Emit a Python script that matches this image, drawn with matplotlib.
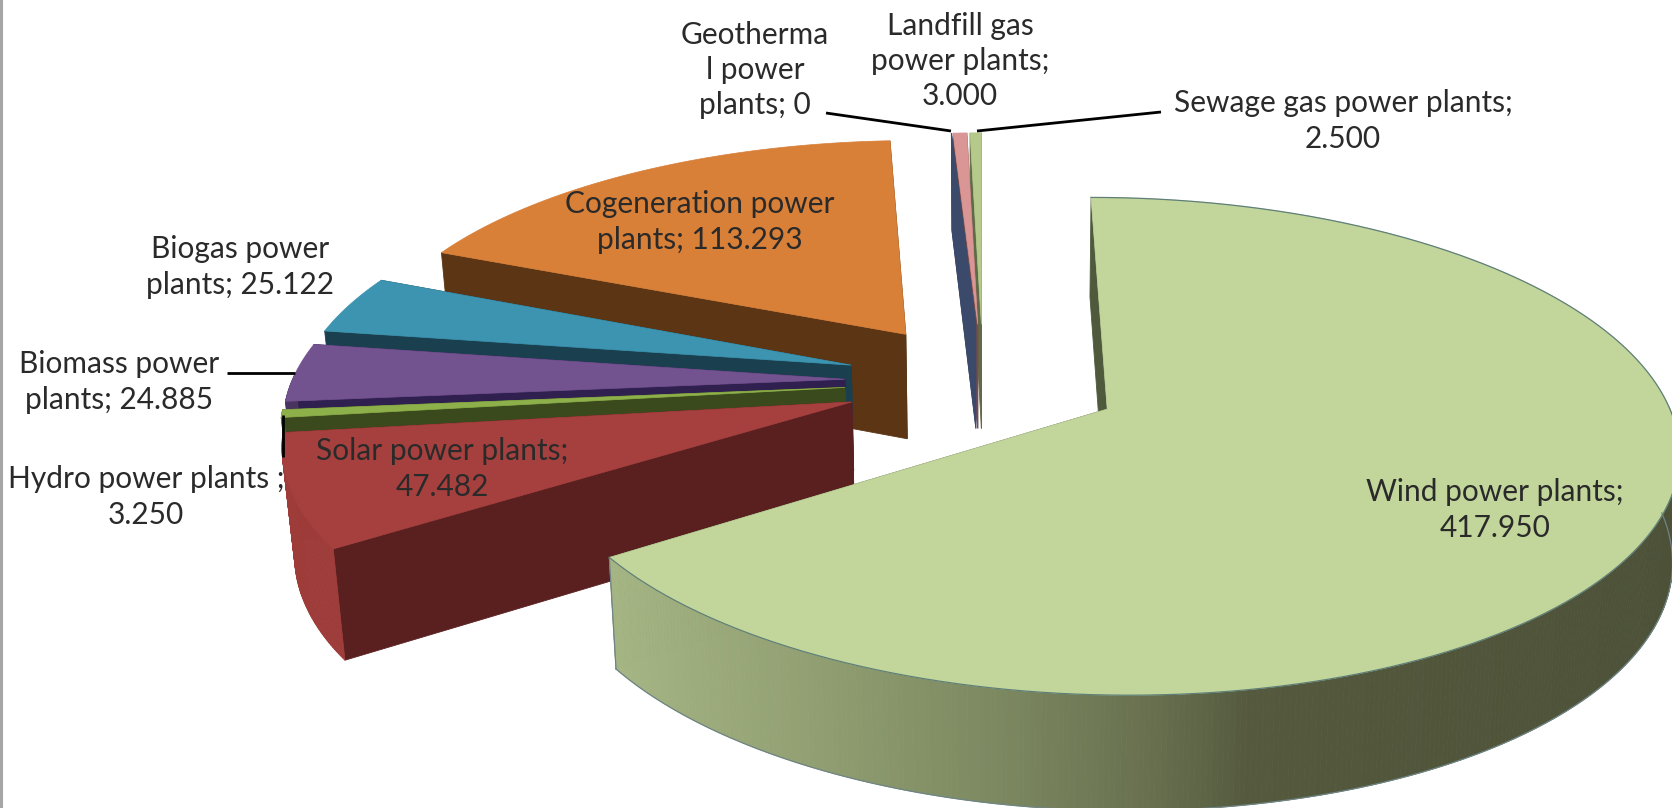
import numpy as np
import matplotlib
matplotlib.use("Agg")
import matplotlib.pyplot as plt

# data, clockwise from 12 o'clock
names = ["Wind power plants", "Solar power plants", "Hydro power plants", "Biomass power plants",
         "Biogas power plants", "Cogeneration power plants", "Geothermal power plants",
         "Landfill gas power plants", "Sewage gas power plants"]
values = [417950, 47482, 3250, 24885, 25122, 113293, 0, 3000, 2500]
label_texts = ["Wind power plants;\n417.950", "Solar power plants;\n47.482", "Hydro power plants ;\n3.250",
               "Biomass power\nplants; 24.885", "Biogas power\nplants; 25.122",
               "Cogeneration power\nplants; 113.293", "Geotherma\nl power\nplants; 0",
               "Landfill gas\npower plants;\n3.000", "Sewage gas power plants;\n2.500"]

# styles
top_colors = ["#C2D59A", "#A5403E", "#8DB04A", "#735290", "#3C94B0", "#D87F38", "#3B4A6B", "#D99694", "#B5C98A"]
face_colors = ["#4F5A3C", "#5A2020", "#3A4A1C", "#2F2050", "#1A4050", "#5B3514", "#3B4A6B", "#7A4A48", "#5F6B47"]
side_colors = ["#4F5338", "#9E3C3A", "#5A7030", "#4A3560", "#25607A", "#8A5020", "#3B4A6B", "#8A5A58", "#7F8F5F"]
label_pos = [(1495, 510), (442, 469), (146, 497), (119, 382), (240, 267), (700, 222), (755, 70), (960, 61), (1343, 121)]
leaders = [[(826, 113), (951, 131)], [(977, 131), (1161, 112)], [(227, 373), (295, 373)], [(282.5, 415), (282.5, 457)]]
draw_order = [8, 7, 6, 5, 4, 3, 2, 1, 0]

# projection of the pie plane to pixels
CX, CY, RX, RY, K = 983, 381, 553, 235, 0.147
EXPLODE = 0.25
DEPTH = 106
SHRINK_LEFT = 0.018
SHRINK_RIGHT = 0.01

# wind side gradient, pixel x -> colour
grad_x = [612, 800, 1000, 1150, 1250, 1672]
grad_c = ["#A6B584", "#92A073", "#7C8860", "#68704F", "#555A3E", "#4C5138"]


def top_xy(x, y):
    w = 1 + K * y
    return CX + RX * x / w, CY - RY * y / w


def bottom_xy(x, y):
    px, py = top_xy(x, y)
    shrink = np.where(px < CX, SHRINK_LEFT, SHRINK_RIGHT)
    return CX + (px - CX) * (1 - shrink), py + DEPTH / (1 + K * y * 0.5)


def hex_rgb(c):
    return np.array([int(c[i:i + 2], 16) / 255 for i in (1, 3, 5)])


def wind_color(x):
    rgb = np.array([hex_rgb(c) for c in grad_c])
    return [np.interp(x, grad_x, rgb[:, i]) for i in range(3)]


def quad(ax, a, b, c, d, color):
    ax.fill([a[0], b[0], c[0], d[0]], [a[1], b[1], c[1], d[1]], color=color, lw=0.6)


fig = plt.figure(figsize=(16.72, 8.08), dpi=100)
ax = fig.add_axes([0, 0, 1, 1])
ax.set_xlim(0, 1672)
ax.set_ylim(808, 0)
ax.axis("off")

# grey frame line on the left
ax.plot([1, 1], [0, 808], color="#A6A6A6", lw=2.2)

edges = np.concatenate([[0], np.cumsum(values)]) / sum(values) * 360

for i in draw_order:
    start, end = np.radians(edges[i]), np.radians(edges[i + 1])
    mid = (start + end) / 2
    ax0, ay0 = EXPLODE * np.sin(mid), EXPLODE * np.cos(mid)
    n = max(2, int((edges[i + 1] - edges[i]) * 2) + 2)
    th = np.linspace(start, end, n)
    ux = ax0 + np.sin(th)
    uy = ay0 + np.cos(th)

    # flat cut faces
    for ex, ey in [(ux[-1], uy[-1]), (ux[0], uy[0])]:
        quad(ax, top_xy(ax0, ay0), top_xy(ex, ey), bottom_xy(ex, ey), bottom_xy(ax0, ay0), face_colors[i])

    # curved outer side, only the part facing the viewer
    front = np.cos(th) < 0.02
    for j in range(n - 1):
        if not (front[j] and front[j + 1]):
            continue
        a, b = top_xy(ux[j], uy[j]), top_xy(ux[j + 1], uy[j + 1])
        c, d = bottom_xy(ux[j + 1], uy[j + 1]), bottom_xy(ux[j], uy[j])
        col = wind_color((a[0] + b[0]) / 2) if i == 0 else side_colors[i]
        quad(ax, a, b, c, d, col)

    if i == 0:
        # outline under the big slice, the top surface hides its far end
        ax.plot(*bottom_xy(ux[front], uy[front]), color="#6F8585", lw=0.9)
        ax.plot(*zip(top_xy(ux[-1], uy[-1]), bottom_xy(ux[-1], uy[-1])), color="#6F8585", lw=0.9)

    # top surface
    px, py = top_xy(np.r_[ax0, ux], np.r_[ay0, uy])
    ax.fill(px, py, color=top_colors[i], lw=0.5)

    if i == 0:
        ax.plot(*top_xy(ux, uy), color="#5F7F78", lw=0.9)

for seg in leaders:
    ax.plot(*zip(*seg), color="black", lw=2.0, solid_capstyle="butt")

for txt, pos in zip(label_texts, label_pos):
    ax.text(pos[0], pos[1], txt, ha="center", va="center", family="Lato", fontsize=21.5,
            color="#2A2A2A", linespacing=1.32)

fig.savefig("out.png", dpi=100)
